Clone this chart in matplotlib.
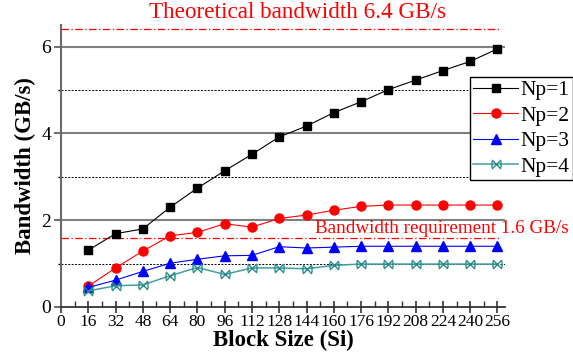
import numpy as np
import matplotlib
matplotlib.use('Agg')
import matplotlib.pyplot as plt
from matplotlib.path import Path
from matplotlib.ticker import MultipleLocator

plt.rcParams['font.family'] = ['Liberation Serif', 'DejaVu Serif']

block_size = [16, 32, 48, 64, 80, 96, 112, 128, 144, 160, 176, 192, 208, 224, 240, 256]
np1 = [1.31, 1.69, 1.80, 2.30, 2.74, 3.14, 3.52, 3.92, 4.17, 4.48, 4.73, 5.01, 5.23, 5.45, 5.66, 5.95]
np2 = [0.48, 0.90, 1.29, 1.64, 1.72, 1.92, 1.84, 2.04, 2.12, 2.23, 2.32, 2.35, 2.35, 2.35, 2.35, 2.35]
np3 = [0.45, 0.62, 0.82, 1.01, 1.10, 1.18, 1.19, 1.39, 1.36, 1.38, 1.40, 1.40, 1.40, 1.40, 1.40, 1.40]
np4 = [0.37, 0.49, 0.51, 0.72, 0.91, 0.75, 0.90, 0.90, 0.88, 0.96, 0.99, 0.99, 0.99, 0.99, 0.99, 0.99]
labels = ['Np=1', 'Np=2', 'Np=3', 'Np=4']

theoretical = 6.4
requirement = 1.6

# X with vertical sides (bowtie cross) marker
bowtie = Path([(-1, -1), (1, 1), (-1, 1), (1, -1), (-1, -0.7), (-1, 0.7), (1, -0.7), (1, 0.7)],
              [Path.MOVETO, Path.LINETO, Path.MOVETO, Path.LINETO,
               Path.MOVETO, Path.LINETO, Path.MOVETO, Path.LINETO])

fig = plt.figure(figsize=(5.73, 3.64), dpi=100)
ax = fig.add_axes([0.1065, 0.1566, 0.775, 0.7747])

# grid lines
for y in [2, 4, 6]:
    ax.axhline(y, color='#7f7f7f', lw=1.5, zorder=1)
for y in [1, 3, 5]:
    ax.axhline(y, color='black', lw=0.7, ls=(0, (2, 1.5)), zorder=1)

ax.hlines(theoretical, 0, 257, colors='red', lw=0.9, linestyles=(0, (6, 2, 1, 2)), zorder=2)
ax.hlines(requirement, 0, 257, colors='red', lw=0.9, linestyles=(0, (6, 2, 1, 2)), zorder=2)

ax.plot(block_size, np1, color='black', lw=0.8, marker='s', ms=5.8, label=labels[0], zorder=5)
ax.plot(block_size, np2, color='red', lw=0.8, marker='o', ms=6.5, label=labels[1], zorder=5)
ax.plot(block_size, np3, color='blue', lw=0.8, marker='^', ms=6.5, label=labels[2], zorder=5)
ax.plot(block_size, np4, color='#40a0a0', lw=1.1, marker=bowtie, ms=6.5, mfc='none',
        mec='#2a8a8a', mew=1.0, label=labels[3], zorder=5)

ax.text(139, 6.79, 'Theoretical bandwidth 6.4 GB/s', color='red', fontsize=16.7,
        ha='center', va='center', clip_on=False)
ax.text(148.8, 1.80, 'Bandwidth requirement 1.6 GB/s', color='red', fontsize=13.8,
        ha='left', va='center', clip_on=False, zorder=6)

ax.set_xlim(0, 260.5)
ax.set_ylim(0, 6.5)
ax.set_xticks(np.arange(0, 257, 16))
ax.xaxis.set_minor_locator(MultipleLocator(8))
ax.set_yticks([0, 2, 4, 6])
ax.yaxis.set_minor_locator(MultipleLocator(1))

ax.spines['top'].set_visible(False)
ax.spines['right'].set_visible(False)
ax.spines['left'].set_color('#6a6a6a')
ax.spines['left'].set_linewidth(1.5)
ax.spines['bottom'].set_color('#333333')
ax.spines['bottom'].set_linewidth(1.3)

ax.tick_params(axis='x', which='major', direction='inout', length=8, width=1.2,
               labelsize=12.5, pad=1, colors='#333333', labelcolor='black')
ax.tick_params(axis='x', which='minor', direction='in', length=4, width=1.0, colors='#333333')
ax.tick_params(axis='y', which='major', direction='out', length=5, width=1.2,
               labelsize=14, pad=2, colors='#555555', labelcolor='black')
ax.tick_params(axis='y', which='minor', direction='out', length=2, width=1.0, colors='black')

ax.set_xlabel('Block Size (Si)', fontsize=16.5, fontweight='bold', labelpad=0)
ax.set_ylabel('Bandwidth (GB/s)', fontsize=16.5, fontweight='bold', labelpad=4)

leg = ax.legend(loc='upper left', bbox_to_anchor=(0.921, 0.816), fontsize=15.5,
                frameon=True, fancybox=False, edgecolor='black', framealpha=1,
                handlelength=2.1, handletextpad=0.1, borderpad=0.15, labelspacing=0.25,
                borderaxespad=0)
leg.get_frame().set_linewidth(1.0)

fig.savefig('out.png', dpi=100)
